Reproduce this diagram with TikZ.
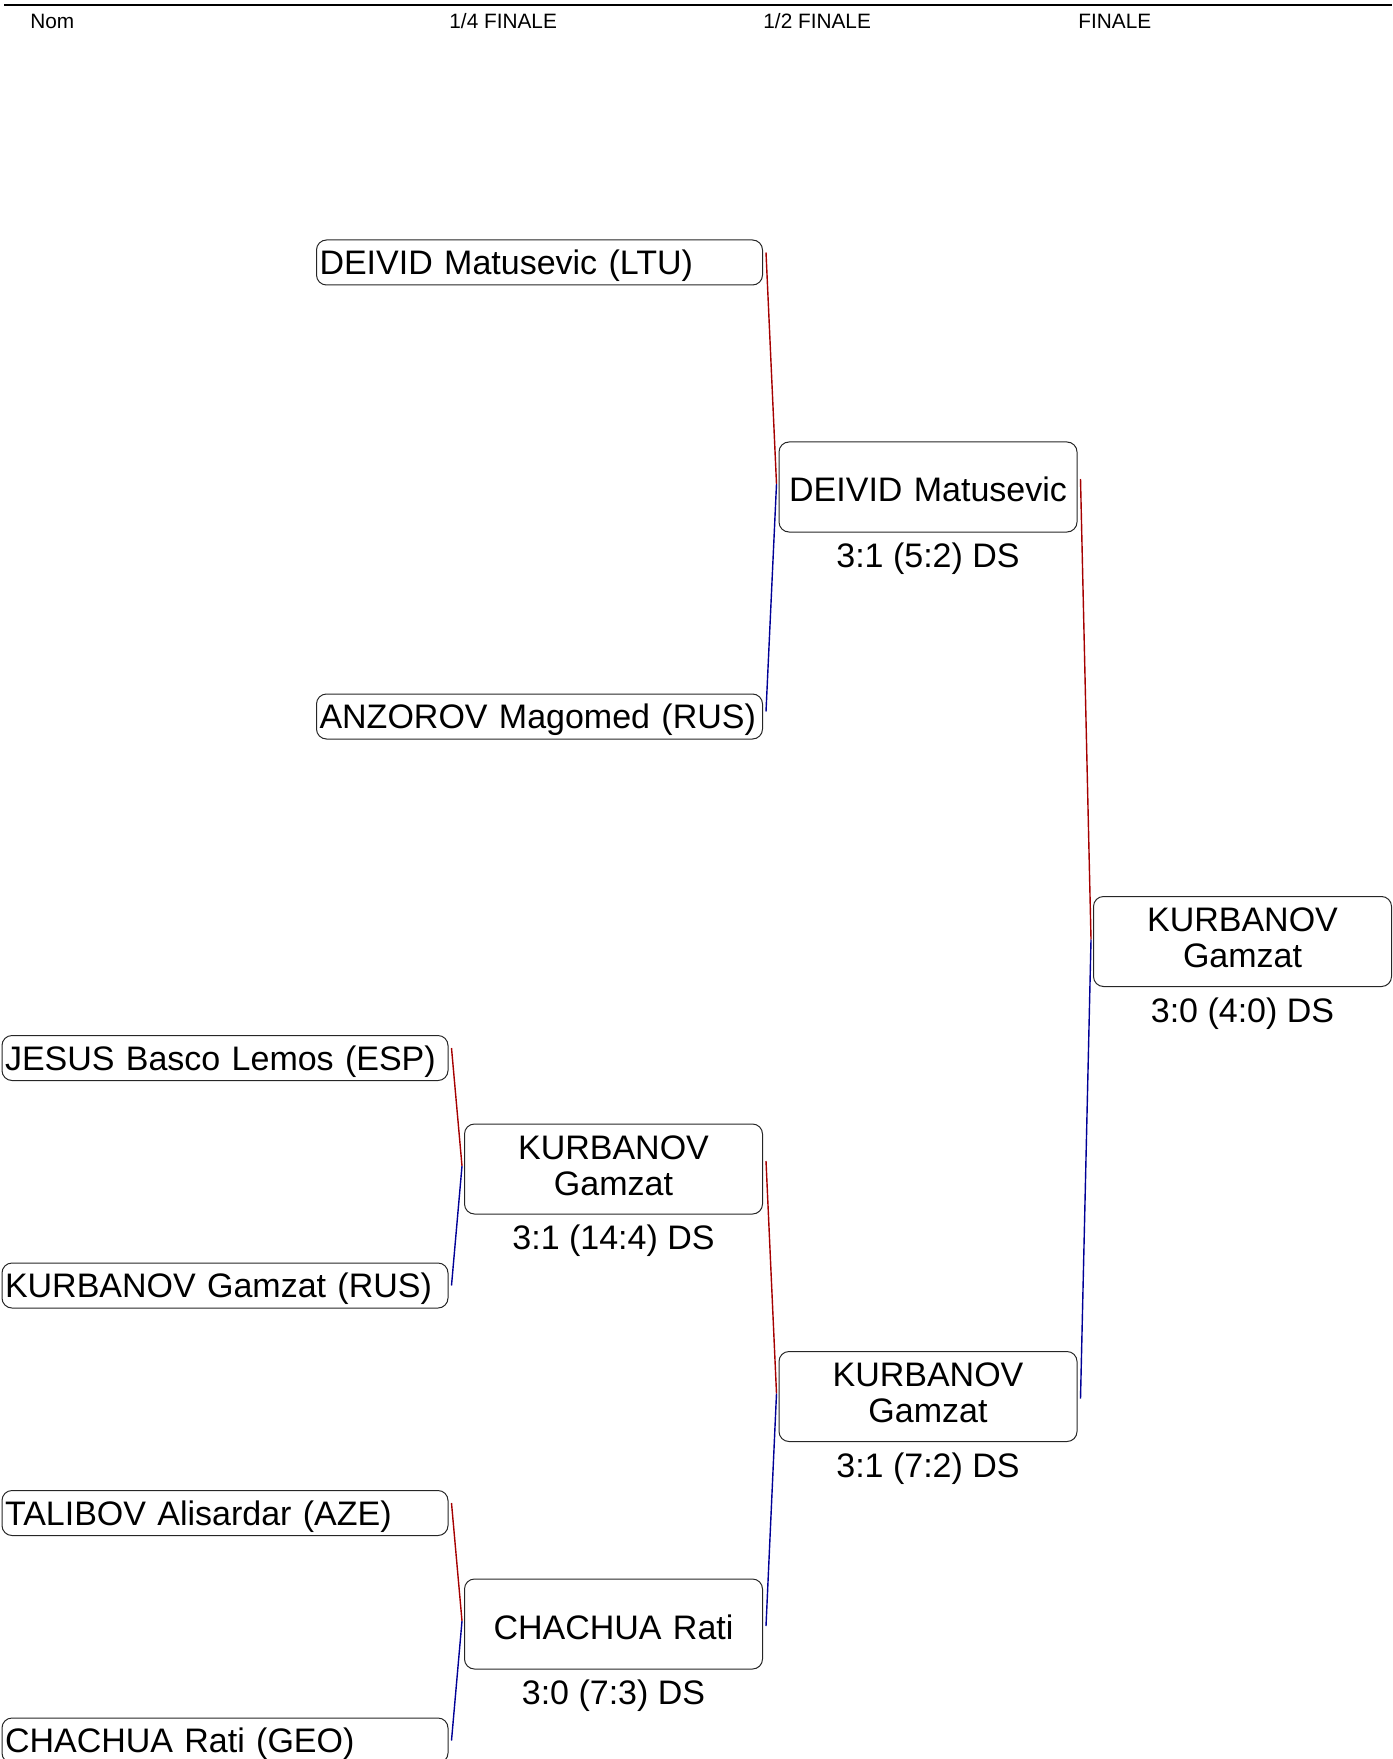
\documentclass[tikz,border=0pt]{standalone}
\usepackage{fontspec}
\setmainfont{Liberation Sans}
\usetikzlibrary{calc,positioning}
\definecolor{redcorner}{RGB}{165,0,0}
\definecolor{bluecorner}{RGB}{0,0,150}
\tikzset{
  head/.style={anchor=base west, inner sep=0pt, font=\fontsize{10.4}{12}\selectfont},
  namebox/.style={draw=black!85, line width=0.5pt, rounded corners=5pt, text width=220pt, inner xsep=1.5pt, inner ysep=0pt, minimum height=22.5pt, text height=12.2pt, text depth=0pt, align=left, font=\fontsize{17}{20}\selectfont},
  winbox/.style={draw=black!85, line width=0.5pt, rounded corners=5pt, text width=149pt, inner sep=0pt, minimum height=45pt, align=center, font=\fontsize{17}{18}\selectfont},
  oneline/.style={text height=15pt, text depth=0pt},
  twoline/.style={text depth=21.4pt},
  score/.style={inner sep=0pt, font=\fontsize{17}{20}\selectfont},
  red bout/.style={draw=redcorner, line width=0.7pt},
  blue bout/.style={draw=bluecorner, line width=0.7pt}
}

\begin{document}
\begin{tikzpicture}[x=0.5pt,y=-0.5pt]
	\useasboundingbox (0,0) rectangle (1392,1759);

	\draw[line width=1pt] (4,5) -- (1392,5);
	\node[head] (hnom) at (30,29) {Nom};
	\node[head] (hquart) at (449,29) {1/4 FINALE};
	\node[head] (hdemi) at (763,29) {1/2 FINALE};
	\node[head] (hfin) at (1078,29) {FINALE};

	\node[namebox] (deivid) at (539.5,262.5) {DEIVID Matusevic (LTU)};
	\node[namebox] (anzorov) at (539.5,716.5) {ANZOROV Magomed (RUS)};
	\node[namebox] (jesus) at (225,1058) {JESUS Basco Lemos (ESP)};
	\node[namebox] (kurbanov) at (225,1285.5) {KURBANOV Gamzat (RUS)};
	\node[namebox] (talibov) at (225,1513) {TALIBOV Alisardar (AZE)};
	\node[namebox] (chachua) at (225,1740.5) {CHACHUA Rati (GEO)};

	\node[winbox, twoline] (qf1) at (613.5,1169) {KURBANOV\\Gamzat};
	\node[score, below=5pt of qf1] (qf1s) {3:1 (14:4) DS};
	\node[winbox, oneline] (qf2) at (613.5,1624) {CHACHUA Rati};
	\node[score, below=5pt of qf2] (qf2s) {3:0 (7:3) DS};

	\node[winbox, oneline] (sf1) at (928,487) {DEIVID Matusevic};
	\node[score, below=5pt of sf1] (sf1s) {3:1 (5:2) DS};
	\node[winbox, twoline] (sf2) at (928,1396.5) {KURBANOV\\Gamzat};
	\node[score, below=5pt of sf2] (sf2s) {3:1 (7:2) DS};

	\node[winbox, twoline] (fin) at (1242.5,941.5) {KURBANOV\\Gamzat};
	\node[score, below=5pt of fin] (fins) {3:0 (4:0) DS};

	\draw[red bout] ($(jesus.east)+(3,-10)$) -- ($(qf1.west)+(-2,-3)$);
	\draw[blue bout] ($(kurbanov.east)+(3,0)$) -- ($(qf1.west)+(-2,-3)$);
	\draw[red bout] ($(talibov.east)+(3,-10)$) -- ($(qf2.west)+(-2,-3)$);
	\draw[blue bout] ($(chachua.east)+(3,0)$) -- ($(qf2.west)+(-2,-3)$);

	\draw[red bout] ($(deivid.east)+(3,-10)$) -- ($(sf1.west)+(-2,-3)$);
	\draw[blue bout] ($(anzorov.east)+(3,-5)$) -- ($(sf1.west)+(-2,-3)$);
	\draw[red bout] ($(qf1.east)+(3,-8)$) -- ($(sf2.west)+(-2,-3)$);
	\draw[blue bout] ($(qf2.east)+(3,2)$) -- ($(sf2.west)+(-2,-3)$);

	\draw[red bout] ($(sf1.east)+(3,-8)$) -- ($(fin.west)+(-2,-2)$);
	\draw[blue bout] ($(sf2.east)+(3,2)$) -- ($(fin.west)+(-2,-2)$);
\end{tikzpicture}
\end{document}
